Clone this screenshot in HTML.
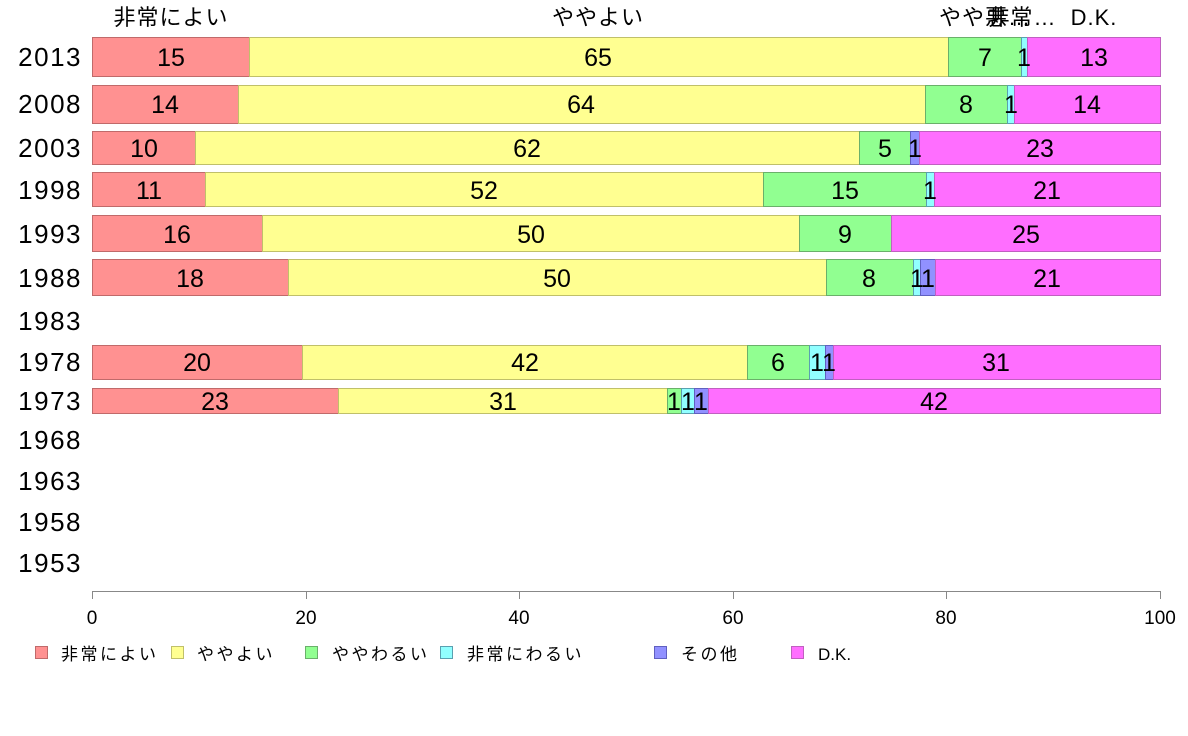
<!DOCTYPE html>
<html><head><meta charset="utf-8"><style>
html,body{margin:0;padding:0;background:#fff}
svg{display:block}
text{font-family:"Liberation Sans","Noto Sans CJK JP",sans-serif;fill:#000}
.v{font-size:25px;text-anchor:middle}
.yr{font-size:26px;text-anchor:end;letter-spacing:1.5px}
.t{font-size:19px;text-anchor:middle}
.lg{font-size:17px;letter-spacing:2.5px}
.hd{font-size:22px;text-anchor:middle;letter-spacing:1px}
.r{fill:#ff9191;stroke:#c06a6a}
.y{fill:#ffff91;stroke:#c0c06a}
.g{fill:#91ff91;stroke:#6ab06a}
.c{fill:#91ffff;stroke:#5aa0b0}
.p{fill:#9191ff;stroke:#6060c0}
.m{fill:#ff6eff;stroke:#c060c0}
rect{stroke-width:1}
</style></head><body>
<svg width="1188" height="736" viewBox="0 0 1188 736" xmlns="http://www.w3.org/2000/svg">
<text class="hd" x="171" y="25">非常によい</text>
<text class="hd" x="598" y="25">ややよい</text>
<text class="hd" x="985" y="25">やや悪…</text>
<text class="hd" x="1022" y="25">非常…</text>
<text class="hd" x="1094" y="25">D.K.</text>
<text class="yr" x="82" y="66">2013</text>
<text class="yr" x="82" y="113">2008</text>
<text class="yr" x="82" y="157">2003</text>
<text class="yr" x="82" y="199">1998</text>
<text class="yr" x="82" y="243">1993</text>
<text class="yr" x="82" y="287">1988</text>
<text class="yr" x="82" y="330">1983</text>
<text class="yr" x="82" y="371">1978</text>
<text class="yr" x="82" y="410">1973</text>
<text class="yr" x="82" y="449">1968</text>
<text class="yr" x="82" y="490">1963</text>
<text class="yr" x="82" y="531">1958</text>
<text class="yr" x="82" y="572">1953</text>
<!-- 2013 -->
<rect class="r" x="92.5" y="37.5" width="157" height="39"/><rect class="y" x="249.5" y="37.5" width="699" height="39"/><rect class="g" x="948.5" y="37.5" width="73" height="39"/><rect class="c" x="1021.5" y="37.5" width="6" height="39"/><rect class="m" x="1027.5" y="37.5" width="133" height="39"/>
<text class="v" x="171" y="66">15</text><text class="v" x="598" y="66">65</text><text class="v" x="985" y="66">7</text><text class="v" x="1024" y="66">1</text><text class="v" x="1094" y="66">13</text>
<!-- 2008 -->
<rect class="r" x="92.5" y="85.5" width="146" height="38"/><rect class="y" x="238.5" y="85.5" width="687" height="38"/><rect class="g" x="925.5" y="85.5" width="82" height="38"/><rect class="c" x="1007.5" y="85.5" width="7" height="38"/><rect class="m" x="1014.5" y="85.5" width="146" height="38"/>
<text class="v" x="165" y="113">14</text><text class="v" x="581" y="113">64</text><text class="v" x="966" y="113">8</text><text class="v" x="1011" y="113">1</text><text class="v" x="1087" y="113">14</text>
<!-- 2003 -->
<rect class="r" x="92.5" y="131.5" width="103" height="33"/><rect class="y" x="195.5" y="131.5" width="664" height="33"/><rect class="g" x="859.5" y="131.5" width="51" height="33"/><rect class="p" x="910.5" y="131.5" width="9" height="33"/><rect class="m" x="919.5" y="131.5" width="241" height="33"/>
<text class="v" x="144" y="157">10</text><text class="v" x="527" y="157">62</text><text class="v" x="885" y="157">5</text><text class="v" x="915" y="157">1</text><text class="v" x="1040" y="157">23</text>
<!-- 1998 -->
<rect class="r" x="92.5" y="172.5" width="113" height="34"/><rect class="y" x="205.5" y="172.5" width="558" height="34"/><rect class="g" x="763.5" y="172.5" width="163" height="34"/><rect class="c" x="926.5" y="172.5" width="8" height="34"/><rect class="m" x="934.5" y="172.5" width="226" height="34"/>
<text class="v" x="149" y="199">11</text><text class="v" x="484" y="199">52</text><text class="v" x="845" y="199">15</text><text class="v" x="930" y="199">1</text><text class="v" x="1047" y="199">21</text>
<!-- 1993 -->
<rect class="r" x="92.5" y="215.5" width="170" height="36"/><rect class="y" x="262.5" y="215.5" width="537" height="36"/><rect class="g" x="799.5" y="215.5" width="92" height="36"/><rect class="m" x="891.5" y="215.5" width="269" height="36"/>
<text class="v" x="177" y="243">16</text><text class="v" x="531" y="243">50</text><text class="v" x="845" y="243">9</text><text class="v" x="1026" y="243">25</text>
<!-- 1988 -->
<rect class="r" x="92.5" y="259.5" width="196" height="36"/><rect class="y" x="288.5" y="259.5" width="538" height="36"/><rect class="g" x="826.5" y="259.5" width="87" height="36"/><rect class="c" x="913.5" y="259.5" width="7" height="36"/><rect class="p" x="920.5" y="259.5" width="15" height="36"/><rect class="m" x="935.5" y="259.5" width="225" height="36"/>
<text class="v" x="190" y="287">18</text><text class="v" x="557" y="287">50</text><text class="v" x="869" y="287">8</text><text class="v" x="917" y="287">1</text><text class="v" x="928" y="287">1</text><text class="v" x="1047" y="287">21</text>
<!-- 1978 -->
<rect class="r" x="92.5" y="345.5" width="210" height="34"/><rect class="y" x="302.5" y="345.5" width="445" height="34"/><rect class="g" x="747.5" y="345.5" width="62" height="34"/><rect class="c" x="809.5" y="345.5" width="16" height="34"/><rect class="p" x="825.5" y="345.5" width="8" height="34"/><rect class="m" x="833.5" y="345.5" width="327" height="34"/>
<text class="v" x="197" y="371">20</text><text class="v" x="525" y="371">42</text><text class="v" x="778" y="371">6</text><text class="v" x="817" y="371">1</text><text class="v" x="829" y="371">1</text><text class="v" x="996" y="371">31</text>
<!-- 1973 -->
<rect class="r" x="92.5" y="388.5" width="246" height="25"/><rect class="y" x="338.5" y="388.5" width="329" height="25"/><rect class="g" x="667.5" y="388.5" width="14" height="25"/><rect class="c" x="681.5" y="388.5" width="13" height="25"/><rect class="p" x="694.5" y="388.5" width="14" height="25"/><rect class="m" x="708.5" y="388.5" width="452" height="25"/>
<text class="v" x="215" y="410">23</text><text class="v" x="503" y="410">31</text><text class="v" x="674" y="410">1</text><text class="v" x="688" y="410">1</text><text class="v" x="701" y="410">1</text><text class="v" x="934" y="410">42</text>
<!-- axis -->
<g stroke="#888" stroke-width="1">
<line x1="92" y1="591.5" x2="1160" y2="591.5"/>
<line x1="92.5" y1="591" x2="92.5" y2="599"/><line x1="306.5" y1="591" x2="306.5" y2="599"/><line x1="519.5" y1="591" x2="519.5" y2="599"/><line x1="733.5" y1="591" x2="733.5" y2="599"/><line x1="946.5" y1="591" x2="946.5" y2="599"/><line x1="1160.5" y1="591" x2="1160.5" y2="599"/>
</g>
<text class="t" x="92" y="624">0</text><text class="t" x="306" y="624">20</text><text class="t" x="519" y="624">40</text><text class="t" x="733" y="624">60</text><text class="t" x="946" y="624">80</text><text class="t" x="1160" y="624">100</text>
<!-- legend -->
<rect class="r" x="35.5" y="646.5" width="12" height="12"/><text class="lg" x="61" y="660">非常によい</text>
<rect class="y" x="171.5" y="646.5" width="12" height="12"/><text class="lg" x="197" y="660">ややよい</text>
<rect class="g" x="305.5" y="646.5" width="12" height="12"/><text class="lg" x="332" y="660">ややわるい</text>
<rect class="c" x="440.5" y="646.5" width="12" height="12"/><text class="lg" x="467" y="660">非常にわるい</text>
<rect class="p" x="654.5" y="646.5" width="12" height="12"/><text class="lg" x="681" y="660">その他</text>
<rect class="m" x="791.5" y="646.5" width="12" height="12"/><text class="lg" x="818" y="660" style="letter-spacing:0">D.K.</text>
</svg>
</body></html>
